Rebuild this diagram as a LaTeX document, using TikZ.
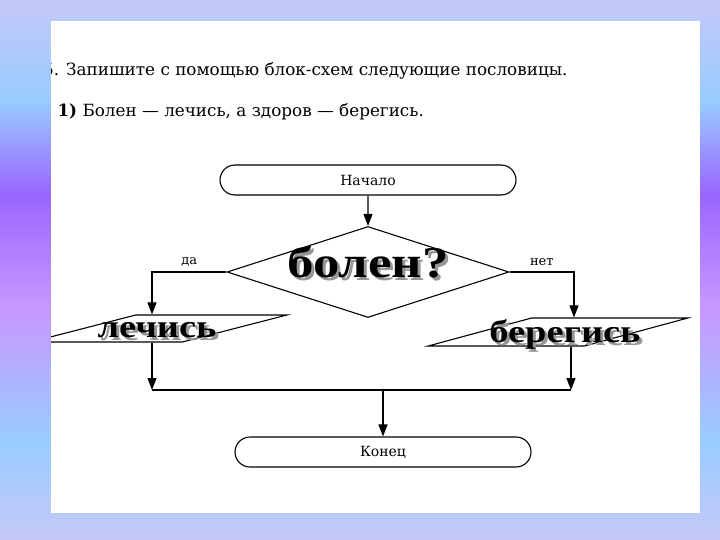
\documentclass[tikz,border=0pt]{standalone}
\usepackage{fontspec}
\setmainfont{DejaVu Serif}
\newfontfamily\wordfont{Liberation Serif}
\usetikzlibrary{arrows.meta,positioning,calc,shapes.geometric,shapes.misc}
\definecolor{bgtop}{RGB}{196,200,248}
\definecolor{bgblue}{RGB}{153,204,255}
\definecolor{bgviolet}{RGB}{153,102,255}
\definecolor{bglilac}{RGB}{200,150,255}
\definecolor{shadowgray}{RGB}{150,150,150}

\begin{document}
\begin{tikzpicture}[
  x=1pt, y=1pt,
  line width=1.1pt,
  term/.style={rounded rectangle, draw=black, minimum width=296pt, minimum height=30pt, inner sep=0pt, font=\fontsize{14}{16}\selectfont},
  cond/.style={diamond, draw=black, minimum width=282pt, minimum height=91pt, inner sep=2pt},
  io/.style={trapezium, trapezium stretches=true, draw=black, inner sep=2pt},
  word/.style={font=\wordfont\bfseries\fontsize{32}{34}\selectfont, xscale=1.2, anchor=base, inner sep=0pt},
  wordshade/.style={word, text=shadowgray},
  flow/.style={-{Triangle[length=12pt,width=9pt]}},
  lbl/.style={font=\fontsize{13}{15}\selectfont},
  task/.style={font=\fontsize{16.8}{19}\selectfont, inner sep=0pt}
]
\useasboundingbox (0,0) rectangle (720,-540);

% background
\shade[top color=bgtop, bottom color=bgblue] (0,0) rectangle (720,-100);
\shade[top color=bgblue, bottom color=bgviolet] (0,-100) rectangle (720,-195);
\shade[top color=bgviolet, bottom color=bglilac] (0,-195) rectangle (720,-305);
\shade[top color=bglilac, bottom color=bgblue] (0,-305) rectangle (720,-440);
\shade[top color=bgblue, bottom color=bgtop] (0,-440) rectangle (720,-540);
\fill[white] (51,-21) rectangle (700,-513);

\begin{scope}
\clip (51,-21) rectangle (700,-513);

\node[task, anchor=base east] (task) at (568,-76) {5. Запишите с помощью блок-схем следующие пословицы.};
\node[task, anchor=base west] (proverb) at (57,-117) {\textbf{1)} Болен — лечись, а здоров — берегись.};

% blocks
\node[term] (start) at (368,-180) {Начало};
\node[cond] (cond) at (368,-272) {};
\node[io, minimum width=256pt, minimum height=27pt, trapezium left angle=24, trapezium right angle=156] (cure) at (159,-328.5) {};
\node[io, minimum width=260pt, minimum height=28pt, trapezium left angle=27, trapezium right angle=153] (care) at (558,-332) {};
\node[term] (stop) at (383,-452) {Конец};

% words with shadow
\node[wordshade, font=\wordfont\bfseries\fontsize{44}{46}\selectfont] (condshade) at ([shift={(3pt,-8pt)}]cond.center) {болен?};
\node[word, font=\wordfont\bfseries\fontsize{44}{46}\selectfont] (condtxt) at ([yshift=-5pt]cond.center) {болен?};
\node[wordshade] (cureshade) at ([shift={(1pt,-11.5pt)}]cure.center) {лечись};
\node[word] (curetxt) at ([shift={(-2pt,-8.5pt)}]cure.center) {лечись};
\node[wordshade] (careshade) at ([shift={(10pt,-13pt)}]care.center) {берегись};
\node[word] (caretxt) at ([shift={(7pt,-10pt)}]care.center) {берегись};

% connectors
\coordinate (joinL) at (152,-390);
\coordinate (joinR) at (571,-390);
\coordinate (joinM) at (383,-390);

\draw[flow] (start) -- (cond);
\draw[flow] (cond.west) -| node[lbl, pos=0.25, above=2pt] {да} ([xshift=-7pt]cure.north);
\draw[flow] (cond.east) -| node[lbl, pos=0.25, above=2pt] {нет} ([xshift=16pt]care.north);
\draw[flow] ([xshift=-7pt]cure.south) -- (joinL);
\draw[flow] ([xshift=13pt]care.south) -- (joinR);
\draw (joinL) -- (joinR);
\draw[flow] (joinM) -- (stop);
\end{scope}
\end{tikzpicture}
\end{document}
